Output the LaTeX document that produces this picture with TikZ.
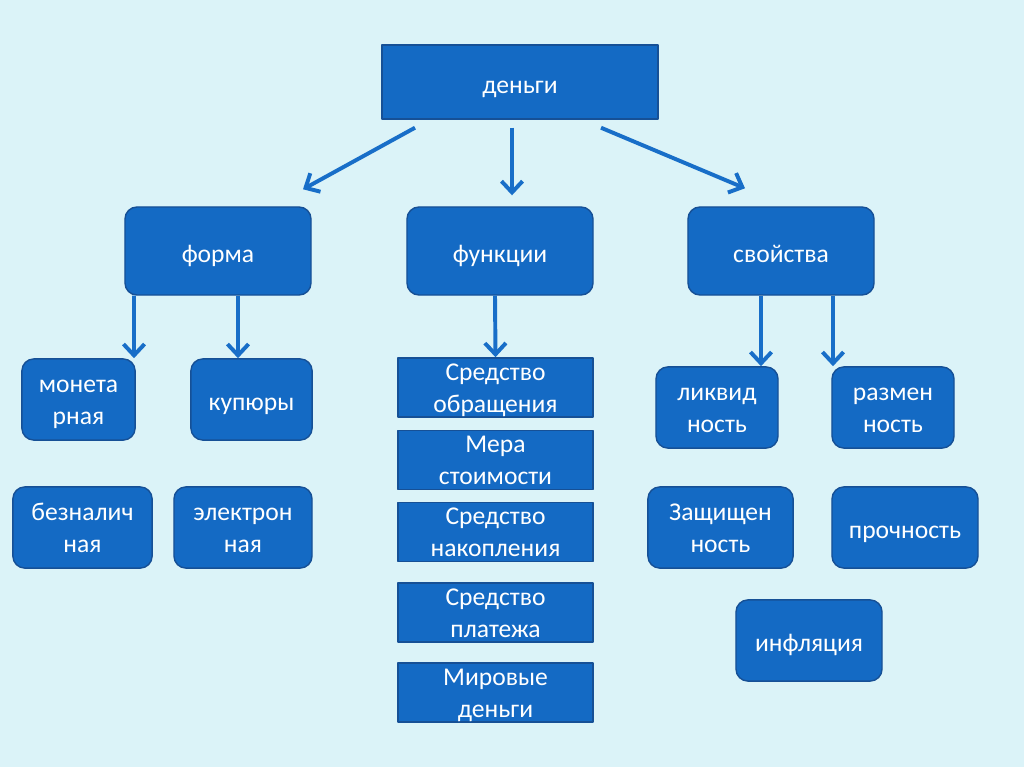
\documentclass[tikz,border=0pt]{standalone}
\usepackage{fontspec}
\setmainfont{Carlito}
\usetikzlibrary{arrows.meta}
\definecolor{bgc}{RGB}{219,243,248}
\definecolor{boxc}{RGB}{20,106,196}
\definecolor{edgec}{RGB}{22,80,150}
\definecolor{arrc}{RGB}{24,110,200}
\begin{document}
\begin{tikzpicture}[x=0.025cm, y=-0.025cm, line join=round,
  box/.style={draw=edgec, fill=boxc, line width=1pt, text=white, align=center, inner sep=0pt,
    font=\fontsize{18.2}{22.5}\selectfont, text height=17pt, text depth=1pt},
  two/.style={text height=37pt, text depth=2pt},
  rbox/.style={box, rounded corners=0.3cm},
  arr/.style={draw=arrc, line width=2.8pt, -{Straight Barb[length=8pt, width=15pt]}}]
 \fill[bgc] (0,0) rectangle (1024,767);
 % top
 \node[box, minimum width=6.9cm, minimum height=1.85cm] (den) at (520,82) {деньги};
 \node[rbox, minimum width=4.65cm, minimum height=2.2cm] (forma) at (218,251) {форма};
 \node[rbox, minimum width=4.65cm, minimum height=2.2cm] (funk) at (500,251) {функции};
 \node[rbox, minimum width=4.65cm, minimum height=2.2cm] (svoi) at (781,251) {свойства};
 % forma
 \node[rbox, two, minimum width=2.83cm, minimum height=2.03cm] (monet) at (78.5,399.5) {монета\\рная};
 \node[rbox, minimum width=3.03cm, minimum height=2.03cm] (kup) at (251.5,399.5) {купюры};
 \node[rbox, two, minimum width=3.48cm, minimum height=2.03cm] (bezn) at (82.5,527.5) {безналич\\ная};
 \node[rbox, two, minimum width=3.45cm, minimum height=2.03cm] (elek) at (243,527.5) {электрон\\ная};
 % funkcii
 \foreach \n/\y/\t in {obr/387.5/{Средство\\обращения}, mera/460/{Мера\\стоимости},
   nak/532/{Средство\\накопления}, plat/612.5/{Средство\\платежа}, mir/692.5/{Мировые\\деньги}}
   \node[box, two, minimum width=4.88cm, minimum height=1.48cm] (\n) at (495.5,\y) {\t};
 % svojstva
 \node[rbox, two, minimum width=3.05cm, minimum height=2.03cm] (likv) at (717,407.5) {ликвид\\ность};
 \node[rbox, two, minimum width=3.05cm, minimum height=2.03cm] (razm) at (893,407.5) {размен\\ность};
 \node[rbox, two, minimum width=3.63cm, minimum height=2.03cm] (zasch) at (720.5,527.5) {Защищен\\ность};
 \node[rbox, minimum width=3.65cm, minimum height=2.03cm] (proch) at (905,527.5) {прочность};
 \node[rbox, minimum width=3.65cm, minimum height=2.03cm] (infl) at (809,640.5) {инфляция};
 % arrows
 \draw[arr] ([shift={(-105,8)}]den.south) -- ([shift={(85,-17)}]forma.north);
 \draw[arr] ([shift={(-8,8)}]den.south) -- ([shift={(12,-11)}]funk.north);
 \draw[arr] ([shift={(81,8)}]den.south) -- ([shift={(-36,-18)}]svoi.north);
 \draw[arr] ([shift={(-84,0)}]forma.south) -- ([shift={(55.5,0)}]monet.north);
 \draw[arr] ([shift={(20,0)}]forma.south) -- ([shift={(-13.5,0)}]kup.north);
 \draw[arr] ([shift={(-5,0)}]funk.south) -- (obr.north);
 \draw[arr] ([shift={(-20,0)}]svoi.south) -- ([shift={(44,0)}]likv.north);
 \draw[arr] ([shift={(52,0)}]svoi.south) -- ([shift={(-60,0)}]razm.north);
\end{tikzpicture}
\end{document}
